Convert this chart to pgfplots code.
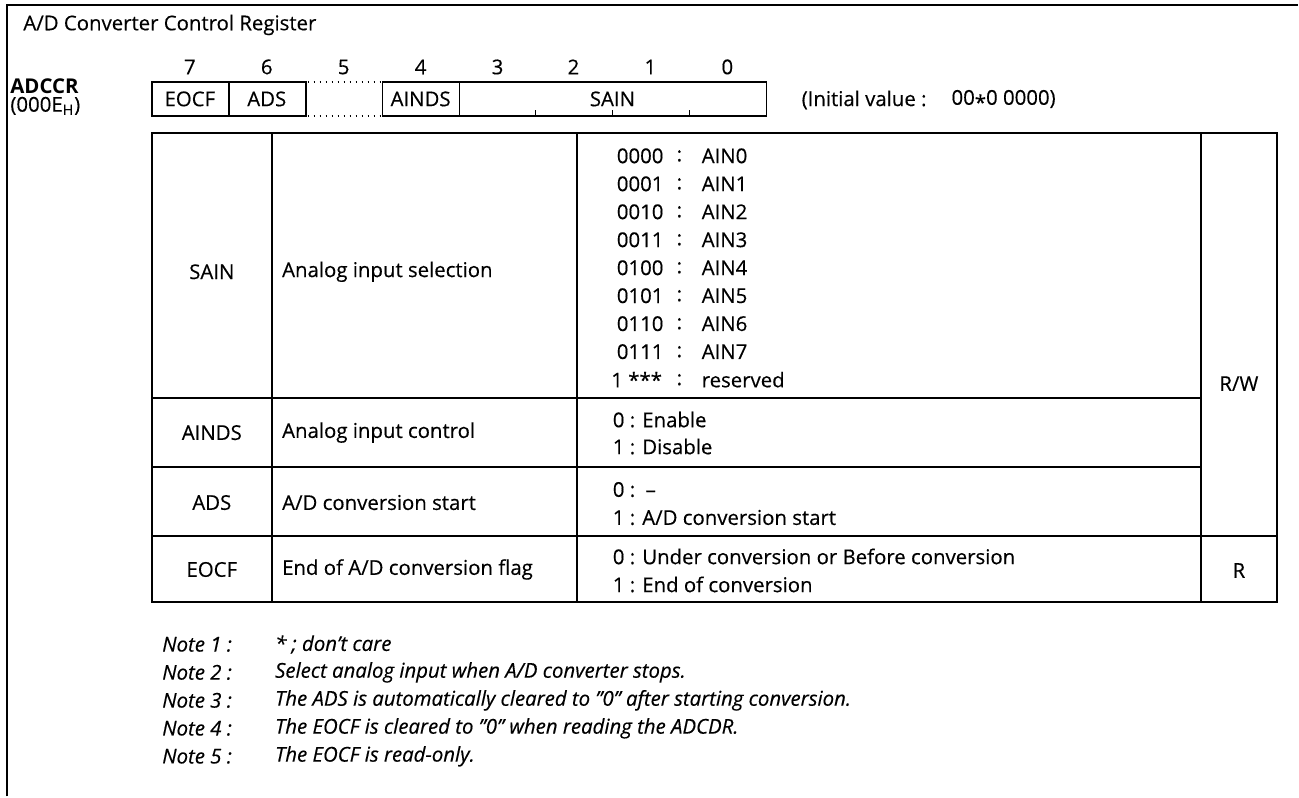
\documentclass[border=0pt]{standalone}
\usepackage{fontspec}
\setmainfont{Open Sans}[UprightFeatures={FakeBold=0.35},ItalicFeatures={FakeBold=0.35}]
\usepackage{pgfplots}
\pgfplotsset{compat=1.18}
\newcommand{\fs}{\fontsize{10.2pt}{12pt}\selectfont}
\begin{document}
\begin{tikzpicture}
\tikzset{t/.style={font=\fs, inner sep=0pt},
         tb/.style={font=\fs\bfseries, inner sep=0pt},
         ti/.style={font=\fs\itshape, inner sep=0pt}}
\begin{axis}[
  width=649.5pt, height=398.5pt, scale only axis,
  xmin=0, xmax=1299, ymin=0, ymax=797, y dir=reverse,
  hide axis, clip=false,
]
\fill[white] (0,0) rectangle (1299,797);
% frame
\draw[line width=1.2pt] (7,797) -- (7,5) -- (1299,5);
\node[t, anchor=west] at (23,25) {A/D Converter Control Register};
\node[tb, anchor=west] at (10,86) {ADCCR};
\node[t, anchor=west] at (10,106) {(000E\textsubscript{H})};
% bit numbers
\node[t] at (190,67) {7};
\node[t] at (267,67) {6};
\node[t] at (344,67) {5};
\node[t] at (421,67) {4};
\node[t] at (498,67) {3};
\node[t] at (574,67) {2};
\node[t] at (651,67) {1};
\node[t] at (728,67) {0};
% register box
\draw[line width=0.8pt] (152,82) rectangle (306,116);
\draw[line width=0.8pt] (229,82) -- (229,116);
\draw[line width=0.8pt] (383,82) rectangle (767,116);
\draw[line width=0.8pt] (460,82) -- (460,116);
\draw[line width=0.7pt] (536,116) -- (536,110);
\draw[line width=0.7pt] (613,116) -- (613,110);
\draw[line width=0.7pt] (690,116) -- (690,110);
\draw[line width=0.8pt, dash pattern=on 0.7pt off 2.3pt] (308,82) -- (382,82);
\draw[line width=0.8pt, dash pattern=on 0.7pt off 2.3pt] (308,116) -- (382,116);
\node[t] at (190,99) {EOCF};
\node[t] at (267,99) {ADS};
\node[t] at (421,99) {AINDS};
\node[t] at (613,99) {SAIN};
\node[t, anchor=west] at (802,100) {(Initial value :};
\node[t, anchor=west] at (952,100) {00\raisebox{-0.25em}{*}0 0000)};
% table
\draw[line width=1pt] (152,133) rectangle (1278,603);
\draw[line width=1pt] (272,133) -- (272,603);
\draw[line width=1pt] (578,133) -- (578,603);
\draw[line width=1pt] (1202,133) -- (1202,603);
\draw[line width=1pt] (152,398) -- (1202,398);
\draw[line width=1pt] (152,467) -- (1202,467);
\draw[line width=1pt] (152,536) -- (1278,536);
% column 1
\node[t] at (212,272) {SAIN};
\node[t] at (212,433) {AINDS};
\node[t] at (212,503) {ADS};
\node[t] at (212,570) {EOCF};
% column 2
\node[t, anchor=west] at (282,272) {Analog input selection};
\node[t, anchor=west] at (282,433) {Analog input control};
\node[t, anchor=west] at (282,503) {A/D conversion start};
\node[t, anchor=west] at (282,570) {End of A/D conversion flag};
% column 3 SAIN list
\node[t, anchor=west] at (617,156) {0000}; \node[t] at (680,156) {:}; \node[t, anchor=west] at (702,156) {AIN0};
\node[t, anchor=west] at (617,184) {0001}; \node[t] at (680,184) {:}; \node[t, anchor=west] at (702,184) {AIN1};
\node[t, anchor=west] at (617,212) {0010}; \node[t] at (680,212) {:}; \node[t, anchor=west] at (702,212) {AIN2};
\node[t, anchor=west] at (617,240) {0011}; \node[t] at (680,240) {:}; \node[t, anchor=west] at (702,240) {AIN3};
\node[t, anchor=west] at (617,268) {0100}; \node[t] at (680,268) {:}; \node[t, anchor=west] at (702,268) {AIN4};
\node[t, anchor=west] at (617,296) {0101}; \node[t] at (680,296) {:}; \node[t, anchor=west] at (702,296) {AIN5};
\node[t, anchor=west] at (617,324) {0110}; \node[t] at (680,324) {:}; \node[t, anchor=west] at (702,324) {AIN6};
\node[t, anchor=west] at (617,352) {0111}; \node[t] at (680,352) {:}; \node[t, anchor=west] at (702,352) {AIN7};
\node[t, anchor=east] at (663,380) {1 ***}; \node[t] at (680,380) {:}; \node[t, anchor=west] at (702,380) {reserved};
% column 3 others
\node[t, anchor=west] at (613,420) {0 : Enable};
\node[t, anchor=west] at (613,447) {1 : Disable};
\node[t, anchor=west] at (613,490) {0 : \,--};
\node[t, anchor=west] at (613,518) {1 : A/D conversion start};
\node[t, anchor=west] at (613,557) {0 : Under conversion or Before conversion};
\node[t, anchor=west] at (613,585) {1 : End of conversion};
% column 4
\node[t] at (1240,384) {R/W};
\node[t] at (1240,571) {R};
% notes
\node[ti, anchor=west] at (162,645) {Note 1 :};
\node[ti, anchor=west] at (275,645) {* ; don’t care};
\node[ti, anchor=west] at (162,673) {Note 2 :};
\node[ti, anchor=west] at (275,673) {Select analog input when A/D converter stops.};
\node[ti, anchor=west] at (162,701) {Note 3 :};
\node[ti, anchor=west] at (275,701) {The ADS is automatically cleared to ”0” after starting conversion.};
\node[ti, anchor=west] at (162,729) {Note 4 :};
\node[ti, anchor=west] at (275,729) {The EOCF is cleared to ”0” when reading the ADCDR.};
\node[ti, anchor=west] at (162,757) {Note 5 :};
\node[ti, anchor=west] at (275,757) {The EOCF is read-only.};
\end{axis}
\end{tikzpicture}
\end{document}
